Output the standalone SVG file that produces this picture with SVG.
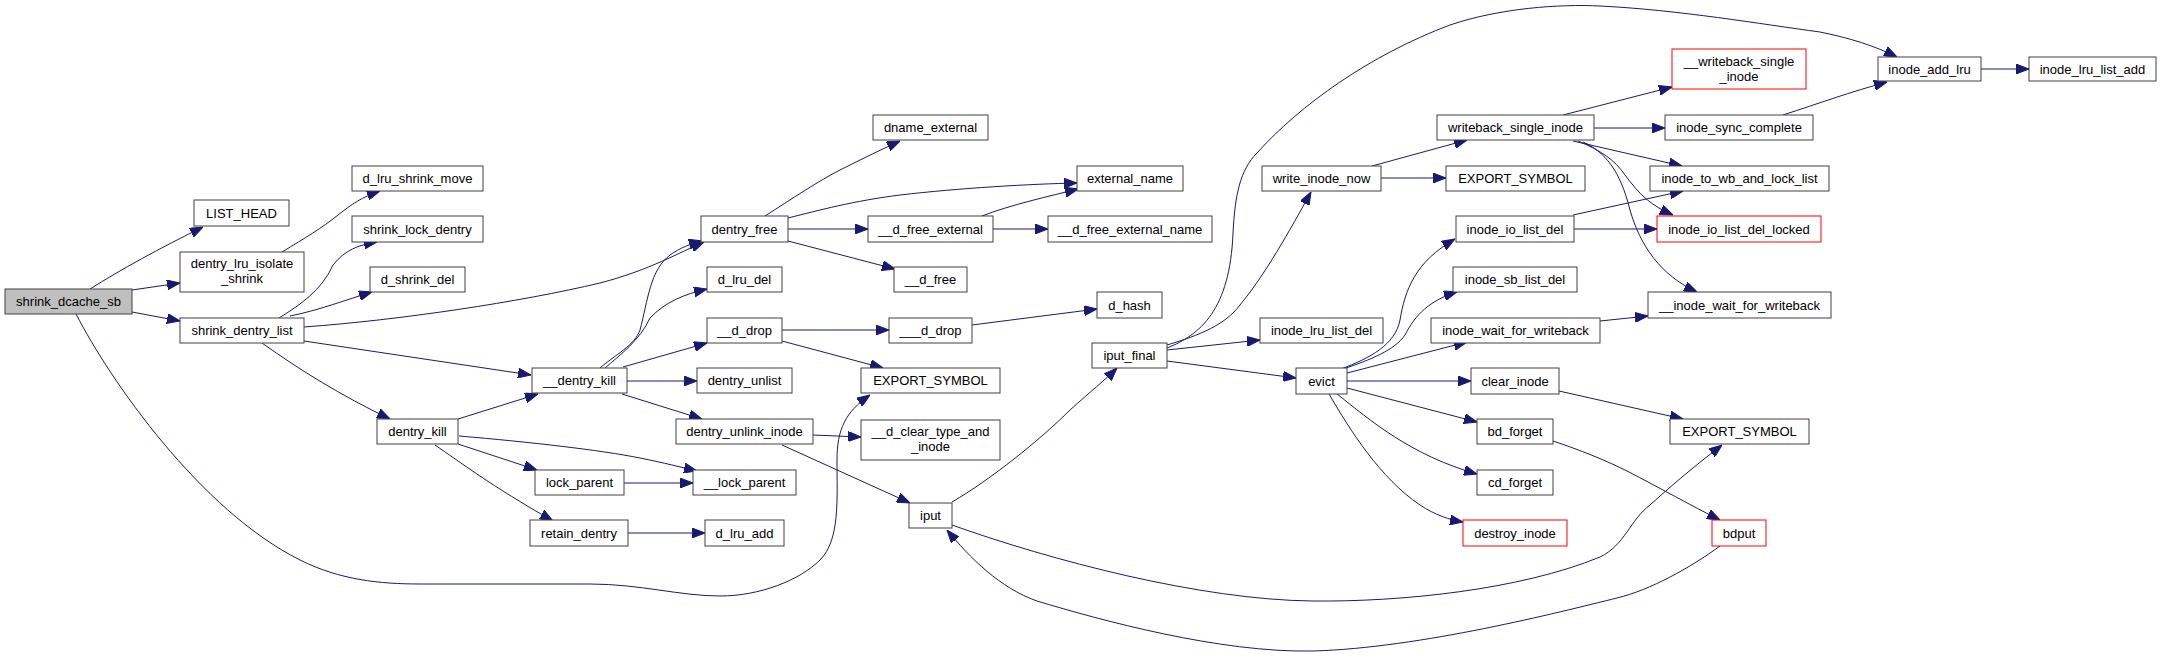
<svg xmlns="http://www.w3.org/2000/svg" width="2161" height="658" viewBox="0 0 2161 658">
<style>
.n rect{fill:#ffffff;stroke:#404040;stroke-width:1}
.n.root rect{fill:#bfbfbf}
.n.red rect{stroke:#ff0000}
.n text{font-family:"Liberation Sans",Arial,sans-serif;font-size:13px;fill:#000;text-anchor:middle}
.e path{fill:none;stroke:#191970;stroke-width:1;marker-end:url(#a)}
</style>
<defs>
<marker id="a" markerWidth="13" markerHeight="10" refX="13" refY="5" orient="auto" markerUnits="userSpaceOnUse">
<path d="M0,0 L13,5 L0,10 z" fill="#191970" stroke="#191970" stroke-width="1"/>
</marker>
</defs>
<rect width="2161" height="658" fill="#ffffff"/>
<g id="connectors" class="e">
<path d="M90,289 C120,270 160,248 203,227"/>
<path d="M132,290 L180,283"/>
<path d="M132,312 L180,321"/>
<path d="M76,314 C110,380 200,510 300,560 C340,580 380,584 420,584 L590,584 C640,584 680,596 720,596 C760,596 800,580 820,560 C840,540 837,500 837,460 C837,430 845,412 870,395"/>
<path d="M282,252 C305,238 322,228 338,215 C352,204 362,197 380,191"/>
<path d="M279,318 C300,305 322,290 333,265 C345,250 358,245 377,242"/>
<path d="M290,316 C320,310 345,300 372,292"/>
<path d="M304,327 C400,320 520,302 600,283 C650,270 680,252 704,242"/>
<path d="M304,341 L531,375"/>
<path d="M262,343 C300,370 340,395 390,419"/>
<path d="M458,419 L538,394"/>
<path d="M459,436 C530,442 600,450 640,458 C665,463 680,467 697,471"/>
<path d="M458,444 L537,470"/>
<path d="M435,445 C460,462 490,485 553,521"/>
<path d="M624,483 L693,483"/>
<path d="M628,533 L705,533"/>
<path d="M600,368 C615,355 635,345 640,330 C648,300 650,270 670,255 C680,248 690,244 702,241"/>
<path d="M605,368 C620,355 640,340 650,318 C665,302 685,294 707,289"/>
<path d="M623,367 L707,343"/>
<path d="M627,381 L697,381"/>
<path d="M622,394 L702,419"/>
<path d="M765,216 C790,200 820,180 840,170 C860,160 880,150 900,141"/>
<path d="M788,218 C820,210 853,201 900,195 C960,188 1030,184 1077,183"/>
<path d="M788,229 L868,229"/>
<path d="M788,241 L895,269"/>
<path d="M982,216 C1010,205 1050,196 1078,189"/>
<path d="M993,229 L1048,229"/>
<path d="M782,330 L889,330"/>
<path d="M782,341 L883,368"/>
<path d="M972,325 L1097,309"/>
<path d="M813,435 L861,437"/>
<path d="M782,445 L910,503"/>
<path d="M952,502 C990,480 1040,440 1070,410 C1090,392 1105,380 1117,368"/>
<path d="M952,525 C1050,560 1200,600 1313,601 C1400,602 1520,590 1600,557 C1625,545 1630,520 1650,505 C1680,478 1700,462 1722,445"/>
<path d="M1720,546 C1690,568 1650,590 1617,598 C1560,612 1420,648 1313,651 C1220,653 1100,620 1037,601 C1000,588 970,558 947,530"/>
<path d="M1167,348 C1200,335 1230,310 1233,233 C1235,195 1240,170 1257,153 C1300,105 1370,55 1450,25 C1500,8 1560,4 1600,6 C1680,10 1760,24 1820,32 C1850,38 1875,46 1897,57"/>
<path d="M1167,345 C1200,335 1225,325 1240,305 C1265,275 1290,230 1311,192"/>
<path d="M1167,350 L1260,340"/>
<path d="M1167,361 L1296,378"/>
<path d="M1372,166 L1467,140"/>
<path d="M1381,178 L1446,178"/>
<path d="M1563,115 L1672,87"/>
<path d="M1594,128 L1665,128"/>
<path d="M1573,141 L1682,166"/>
<path d="M1578,141 C1600,150 1615,160 1625,175 C1640,195 1650,205 1673,215"/>
<path d="M1583,142 C1605,152 1620,170 1630,210 C1640,245 1660,275 1697,292"/>
<path d="M1783,115 C1820,103 1850,92 1887,82"/>
<path d="M1981,69 L2029,69"/>
<path d="M1341,369 C1370,358 1395,345 1400,320 C1405,290 1415,262 1455,239"/>
<path d="M1343,369 C1370,360 1395,350 1405,335 C1415,315 1430,300 1457,292"/>
<path d="M1347,373 L1467,342"/>
<path d="M1347,381 L1471,381"/>
<path d="M1347,388 L1477,422"/>
<path d="M1337,394 C1370,420 1410,455 1477,474"/>
<path d="M1329,394 C1350,430 1380,478 1420,505 C1435,515 1450,520 1463,522"/>
<path d="M1573,215 L1683,191"/>
<path d="M1574,229 L1657,229"/>
<path d="M1600,321 L1648,316"/>
<path d="M1559,391 L1683,419"/>
<path d="M1553,441 C1580,450 1605,460 1627,471 C1660,488 1690,505 1720,520"/>
</g>
<g id="shrink_dcache_sb" class="n root"><rect x="5" y="289" width="127" height="25"/><text x="68.5" y="306">shrink_dcache_sb</text></g>
<g id="LIST_HEAD" class="n"><rect x="194" y="200" width="95" height="26"/><text x="241.5" y="217.5">LIST_HEAD</text></g>
<g id="dentry_lru_isolate_shrink" class="n"><rect x="180" y="252" width="124" height="40"/><text x="242" y="268">dentry_lru_isolate</text><text x="242" y="283">_shrink</text></g>
<g id="shrink_dentry_list" class="n"><rect x="180" y="318" width="124" height="25"/><text x="242" y="335">shrink_dentry_list</text></g>
<g id="d_lru_shrink_move" class="n"><rect x="352" y="166" width="131" height="25"/><text x="417.5" y="183">d_lru_shrink_move</text></g>
<g id="shrink_lock_dentry" class="n"><rect x="352" y="216" width="131" height="26"/><text x="417.5" y="233.5">shrink_lock_dentry</text></g>
<g id="d_shrink_del" class="n"><rect x="370" y="267" width="95" height="25"/><text x="417.5" y="284">d_shrink_del</text></g>
<g id="dentry_kill" class="n"><rect x="377" y="419" width="81" height="25"/><text x="417.5" y="436">dentry_kill</text></g>
<g id="__dentry_kill" class="n"><rect x="532" y="368" width="95" height="25"/><text x="579.5" y="385">__dentry_kill</text></g>
<g id="lock_parent" class="n"><rect x="535" y="470" width="89" height="25"/><text x="579.5" y="487">lock_parent</text></g>
<g id="retain_dentry" class="n"><rect x="530" y="520" width="98" height="26"/><text x="579" y="537.5">retain_dentry</text></g>
<g id="dentry_free" class="n"><rect x="701" y="216" width="87" height="26"/><text x="744.5" y="233.5">dentry_free</text></g>
<g id="d_lru_del" class="n"><rect x="707" y="267" width="75" height="25"/><text x="744.5" y="284">d_lru_del</text></g>
<g id="__d_drop" class="n"><rect x="707" y="318" width="75" height="25"/><text x="744.5" y="335">__d_drop</text></g>
<g id="dentry_unlist" class="n"><rect x="697" y="368" width="95" height="25"/><text x="744.5" y="385">dentry_unlist</text></g>
<g id="dentry_unlink_inode" class="n"><rect x="676" y="419" width="137" height="25"/><text x="744.5" y="436">dentry_unlink_inode</text></g>
<g id="__lock_parent" class="n"><rect x="693" y="470" width="103" height="25"/><text x="744.5" y="487">__lock_parent</text></g>
<g id="d_lru_add" class="n"><rect x="705" y="520" width="79" height="26"/><text x="744.5" y="537.5">d_lru_add</text></g>
<g id="dname_external" class="n"><rect x="873" y="115" width="115" height="25"/><text x="930.5" y="132">dname_external</text></g>
<g id="__d_free_external" class="n"><rect x="868" y="216" width="125" height="26"/><text x="930.5" y="233.5">__d_free_external</text></g>
<g id="__d_free" class="n"><rect x="894" y="267" width="73" height="25"/><text x="930.5" y="284">__d_free</text></g>
<g id="___d_drop" class="n"><rect x="889" y="318" width="83" height="25"/><text x="930.5" y="335">___d_drop</text></g>
<g id="EXPORT_SYMBOL_1" class="n"><rect x="861" y="368" width="139" height="25"/><text x="930.5" y="385">EXPORT_SYMBOL</text></g>
<g id="__d_clear_type_and_inode" class="n"><rect x="861" y="420" width="139" height="40"/><text x="930.5" y="436">__d_clear_type_and</text><text x="930.5" y="451">_inode</text></g>
<g id="iput" class="n"><rect x="909" y="503" width="43" height="25"/><text x="930.5" y="520">iput</text></g>
<g id="external_name" class="n"><rect x="1077" y="166" width="106" height="25"/><text x="1130" y="183">external_name</text></g>
<g id="__d_free_external_name" class="n"><rect x="1048" y="216" width="164" height="26"/><text x="1130" y="233.5">__d_free_external_name</text></g>
<g id="d_hash" class="n"><rect x="1097" y="292" width="65" height="26"/><text x="1129.5" y="309.5">d_hash</text></g>
<g id="iput_final" class="n"><rect x="1092" y="343" width="75" height="25"/><text x="1129.5" y="360">iput_final</text></g>
<g id="write_inode_now" class="n"><rect x="1262" y="166" width="119" height="25"/><text x="1321.5" y="183">write_inode_now</text></g>
<g id="inode_lru_list_del" class="n"><rect x="1260" y="318" width="123" height="25"/><text x="1321.5" y="335">inode_lru_list_del</text></g>
<g id="evict" class="n"><rect x="1296" y="368" width="51" height="26"/><text x="1321.5" y="385.5">evict</text></g>
<g id="writeback_single_inode" class="n"><rect x="1437" y="115" width="157" height="25"/><text x="1515.5" y="132">writeback_single_inode</text></g>
<g id="EXPORT_SYMBOL_2" class="n"><rect x="1446" y="166" width="139" height="25"/><text x="1515.5" y="183">EXPORT_SYMBOL</text></g>
<g id="inode_io_list_del" class="n"><rect x="1456" y="216" width="118" height="26"/><text x="1515" y="233.5">inode_io_list_del</text></g>
<g id="inode_sb_list_del" class="n"><rect x="1453" y="267" width="124" height="25"/><text x="1515" y="284">inode_sb_list_del</text></g>
<g id="inode_wait_for_writeback" class="n"><rect x="1431" y="318" width="169" height="25"/><text x="1515.5" y="335">inode_wait_for_writeback</text></g>
<g id="clear_inode" class="n"><rect x="1471" y="368" width="88" height="26"/><text x="1515" y="385.5">clear_inode</text></g>
<g id="bd_forget" class="n"><rect x="1477" y="419" width="76" height="25"/><text x="1515" y="436">bd_forget</text></g>
<g id="cd_forget" class="n"><rect x="1477" y="470" width="76" height="25"/><text x="1515" y="487">cd_forget</text></g>
<g id="destroy_inode" class="n red"><rect x="1463" y="520" width="104" height="26"/><text x="1515" y="537.5">destroy_inode</text></g>
<g id="__writeback_single_inode" class="n red"><rect x="1672" y="49" width="134" height="40"/><text x="1739" y="65.5">__writeback_single</text><text x="1739" y="80.5">_inode</text></g>
<g id="inode_sync_complete" class="n"><rect x="1665" y="115" width="148" height="25"/><text x="1739" y="132">inode_sync_complete</text></g>
<g id="inode_to_wb_and_lock_list" class="n"><rect x="1650" y="166" width="179" height="25"/><text x="1739.5" y="183">inode_to_wb_and_lock_list</text></g>
<g id="inode_io_list_del_locked" class="n red"><rect x="1657" y="216" width="164" height="26"/><text x="1739" y="233.5">inode_io_list_del_locked</text></g>
<g id="__inode_wait_for_writeback" class="n"><rect x="1648" y="292" width="183" height="26"/><text x="1739.5" y="309.5">__inode_wait_for_writeback</text></g>
<g id="EXPORT_SYMBOL_3" class="n"><rect x="1670" y="419" width="139" height="25"/><text x="1739.5" y="436">EXPORT_SYMBOL</text></g>
<g id="bdput" class="n red"><rect x="1712" y="520" width="54" height="26"/><text x="1739" y="537.5">bdput</text></g>
<g id="inode_add_lru" class="n"><rect x="1878" y="57" width="103" height="24"/><text x="1929.5" y="73.5">inode_add_lru</text></g>
<g id="inode_lru_list_add" class="n"><rect x="2029" y="57" width="127" height="24"/><text x="2092.5" y="73.5">inode_lru_list_add</text></g>
</svg>
